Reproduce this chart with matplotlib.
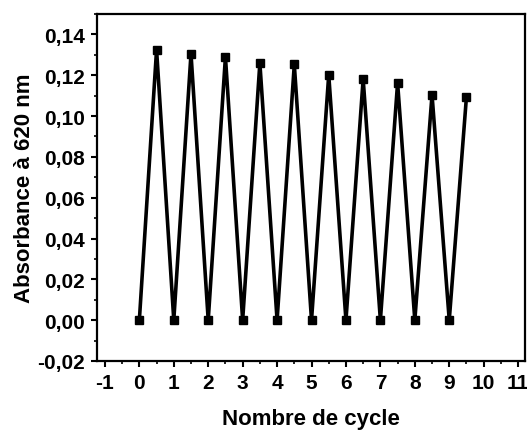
import matplotlib
matplotlib.use("Agg")
import matplotlib.pyplot as plt
from matplotlib.ticker import FuncFormatter, MultipleLocator

plt.rcParams['font.family'] = ['Liberation Sans', 'DejaVu Sans']
plt.rcParams['font.weight'] = 'bold'

cycles = [0, 0.5, 1, 1.5, 2, 2.5, 3, 3.5, 4, 4.5, 5, 5.5, 6, 6.5, 7, 7.5, 8, 8.5, 9, 9.5]
absorbance = [0.0, 0.1325, 0.0, 0.1305, 0.0, 0.129, 0.0, 0.126, 0.0, 0.1253,
              0.0, 0.1202, 0.0, 0.1182, 0.0, 0.1163, 0.0, 0.1104, 0.0, 0.1095]
x_ticks = list(range(-1, 12))
y_ticks = [-0.02, 0.00, 0.02, 0.04, 0.06, 0.08, 0.10, 0.12, 0.14]

fig = plt.figure(figsize=(5.27, 4.31), dpi=100)
ax = fig.add_axes([97/527, 1-362/431, (525-97)/527, (362-15)/431])
ax.plot(cycles, absorbance, color='black', lw=2.6, marker='s', ms=6,
        markerfacecolor='black', markeredgecolor='black')
ax.set_xlim(-1.23, 11.2)
ax.set_ylim(-0.02, 0.150)
ax.set_xticks(x_ticks)
ax.set_yticks(y_ticks)
ax.xaxis.set_minor_locator(MultipleLocator(0.5))
ax.yaxis.set_minor_locator(MultipleLocator(0.01))
ax.yaxis.set_major_formatter(FuncFormatter(lambda v, p: f"{v:.2f}".replace('.', ',').replace('−', '-')))
ax.xaxis.set_major_formatter(FuncFormatter(lambda v, p: f"{int(round(v))}"))
ax.tick_params(which='major', direction='out', length=4.5, width=1.5, labelsize=15,
               top=False, right=False, pad=4)
ax.tick_params(which='minor', direction='out', length=2.5, width=1.2, top=False, right=False)
for s in ax.spines.values():
    s.set_linewidth(1.6)
for lab in ax.get_xticklabels() + ax.get_yticklabels():
    lab.set_fontweight('bold')
ax.set_xlabel('Nombre de cycle', fontsize=16, fontweight='bold', labelpad=11.5)
ax.set_ylabel('Absorbance à 620 nm', fontsize=16, fontweight='bold', labelpad=2)
fig.savefig('out.png', dpi=100)
